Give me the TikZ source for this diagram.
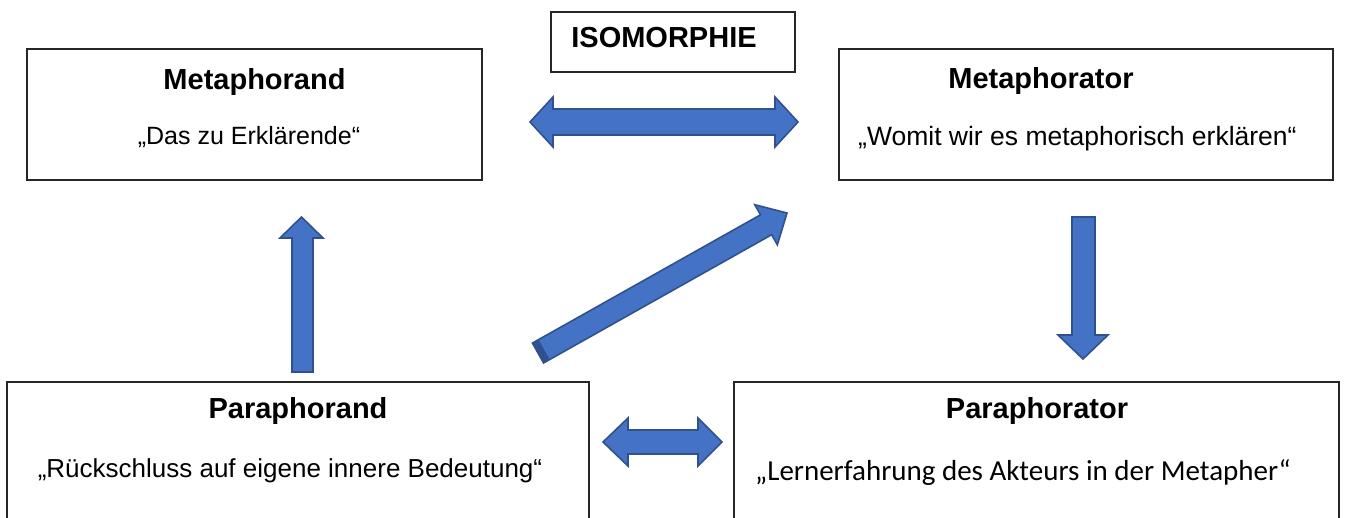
\documentclass[tikz,border=0pt]{standalone}
\usepackage{fontspec}
\setmainfont{Liberation Sans}
\newfontfamily\calibri{Carlito}
\usetikzlibrary{calc}
\definecolor{arrfill}{HTML}{4472C4}
\definecolor{arrline}{HTML}{2F528F}
\definecolor{arrdark}{HTML}{2F528F}
\tikzset{
  box/.style={draw=black!85, line width=1.3pt, fill=white},
  blockarrow/.style={fill=arrfill, draw=arrline, line width=1.6pt, line join=miter},
  ttl/.style={anchor=base, inner sep=0pt, font=\bfseries\fontsize{29}{34}\selectfont},
  bdy/.style={anchor=base, inner sep=0pt, font=\fontsize{25}{30}\selectfont},
}
\begin{document}
\begin{tikzpicture}[x=1pt,y=-1pt]
\useasboundingbox (0,0) rectangle (1347,517);
\clip (0,0) rectangle (1347,517);
\fill[white] (0,0) rectangle (1347,517);

% boxes
\draw[box] (27,49) rectangle (482,180);
\draw[box] (839,49) rectangle (1333,180);
\draw[box] (551,12) rectangle (795,72);
\draw[box] (7,382) rectangle (589,540);
\draw[box] (734,382) rectangle (1339,540);

% texts
\node[ttl] (isoT) at (664,47) {ISOMORPHIE};
\node[ttl] (mdT) at (254.5,89) {Metaphorand};
\node[bdy] (mdB) at (249,144) {„Das zu Erklärende“};
\node[ttl] (mtT) at (1041,88) {Metaphorator};
\node[bdy, anchor=base west, font=\fontsize{26.5}{30}\selectfont] (mtB) at (858,145) {„Womit wir es metaphorisch erklären“};
\node[ttl] (pdT) at (298,418) {Paraphorand};
\node[bdy, font=\fontsize{26}{30}\selectfont] (pdB) at (290,477) {„Rückschluss auf eigene innere Bedeutung“};
\node[ttl] (ptT) at (1037,418) {Paraphorator};
\node[bdy, anchor=base west, font=\calibri\fontsize{29}{33}\selectfont] (ptB) at (755,480) {„Lernerfahrung des Akteurs in der Metapher“};

% top double arrow (isomorphism)
\draw[blockarrow] (530,122) -- (553,97) -- (553,109) -- (775,109) -- (775,97) -- (798,122)
  -- (775,147) -- (775,135) -- (553,135) -- (553,147) -- cycle;

% bottom double arrow
\draw[blockarrow] (603,442) -- (628,418) -- (628,430) -- (698,430) -- (698,418) -- (722,442)
  -- (698,466) -- (698,454) -- (628,454) -- (628,466) -- cycle;

% up arrow (Paraphorand -> Metaphorand)
\draw[blockarrow] (292,372) -- (292,238) -- (280,238) -- (301.5,217) -- (323,238) -- (313,238) -- (313,372) -- cycle;

% down arrow (Metaphorator -> Paraphorator)
\draw[blockarrow] (1072,217) -- (1095,217) -- (1095,335) -- (1108,335) -- (1083,359) -- (1058,335) -- (1072,335) -- cycle;

% diagonal arrow (Paraphorand -> Metaphorator)
\coordinate (dT) at (538,353);
\coordinate (dP) at (787,213);
\coordinate (dB) at ($(dP)!24pt!(dT)$);
\coordinate (dE) at ($(dT)!7pt!(dP)$);
\draw[blockarrow]
  ($(dT)!11.4pt!90:(dP)$) -- ($(dB)!11.4pt!90:(dP)$) -- ($(dB)!23pt!90:(dP)$) -- (dP)
  -- ($(dB)!23pt!-90:(dP)$) -- ($(dB)!11.4pt!-90:(dP)$) -- ($(dT)!11.4pt!-90:(dP)$) -- cycle;
\fill[arrdark] ($(dT)!11.4pt!90:(dP)$) -- ($(dE)!11.4pt!90:(dP)$) -- ($(dE)!11.4pt!-90:(dP)$) -- ($(dT)!11.4pt!-90:(dP)$) -- cycle;
\end{tikzpicture}
\end{document}
